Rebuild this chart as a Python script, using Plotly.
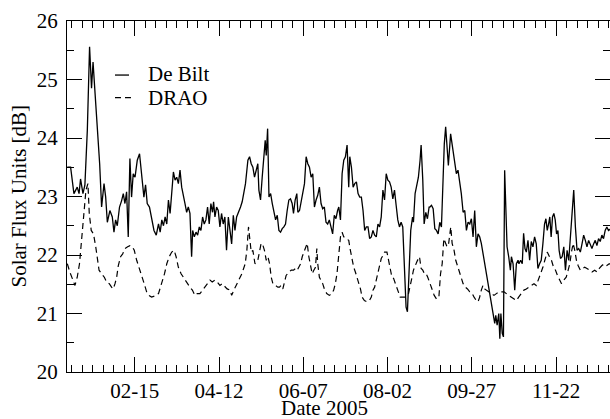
import plotly.graph_objects as go
import pandas as pd

# ---- data (day offset from 2005-01-01, value in dB) ----
debilt_day = [0.2,2.4,4.6,6.8,8.0,9.0,10.6,11.9,13.5,15.0,16.3,17.3,18.3,20.1,21.7,23.0,24.6,25.7,26.8,28.5,
              30.1,31.2,32.3,33.4,34.9,36.3,37.4,38.5,39.6,40.7,41.8,42.9,44.0,45.2,46.7,48.2,49.5,51.1,52.2,53.3,
              54.8,56.2,57.8,59.3,60.8,61.9,63.0,64.1,65.2,66.3,67.4,68.5,69.6,70.7,71.8,72.9,74.0,75.1,76.2,77.3,
              78.4,79.5,80.6,81.7,82.8,83.5,84.6,85.7,86.8,87.9,89.0,90.1,91.2,92.3,93.4,94.5,95.6,96.7,97.4,98.3,
              99.4,100.5,101.6,102.7,103.8,104.9,106.0,107.2,108.3,109.4,110.5,111.6,112.7,113.8,115.3,116.4,117.5,118.6,
              120.2,121.3,122.4,123.5,124.6,125.7,126.8,127.5,128.6,129.7,130.8,131.7,132.4,133.3,134.2,135.3,136.4,137.5,
              138.6,139.7,140.8,141.9,143.0,144.1,145.2,146.3,147.4,148.5,149.6,150.5,151.6,152.7,153.4,154.5,155.6,156.7,
              157.8,158.9,160.0,161.1,162.2,163.3,164.4,165.5,166.6,167.7,168.8,169.9,171.0,172.1,173.2,174.3,175.4,176.5,
              177.6,178.7,179.8,180.6,181.7,182.8,183.9,185.0,186.1,187.2,187.9,189.0,190.1,191.2,192.3,193.4,194.5,195.6,
              196.7,197.8,198.9,200.0,201.1,202.2,203.3,204.4,205.5,206.6,207.7,208.8,209.9,211.0,212.1,213.2,214.3,215.4,
              216.5,217.6,218.7,219.8,220.9,222.0,223.1,224.2,225.3,226.2,227.3,228.4,229.6,230.2,231.3,232.4,233.5,234.6,
              235.3,236.4,237.3,238.4,239.5,240.6,241.1,242.2,243.3,244.4,245.5,246.6,247.7,248.8,249.9,250.7,251.6,253.4,
              254.9,256.5,257.6,258.7,259.8,260.9,262.0,263.2,264.3,265.4,266.5,267.6,268.7,269.8,270.9,272.0,273.1,274.2,
              275.3,284.2,284.9,285.8,286.9,287.6,288.3,289.2,290.0,290.8,292.4,293.5,294.6,295.3,296.4,297.5,298.6,299.7,
              300.3,301.4,302.5,303.4,304.3,305.2,306.3,307.4,308.5,309.6,310.7,311.8,312.9,314.0,315.1,316.2,317.3,318.2,
              319.1,320.0,320.8,321.7,322.6,323.5,324.4,325.3,326.2,327.0,327.9,329.0,330.1,331.2,332.3,333.4,334.5,335.6,
              336.7,337.8,338.9,340.0,341.1,342.2,343.3,344.4,345.5,346.6,347.7,348.8,349.9,351.0,352.1,353.2,354.3,355.4,
              356.5,357.6,358.7,359.8,361.5,363.0]
debilt_val = [23.50,23.50,23.05,23.16,23.05,23.30,23.05,23.20,24.13,25.56,24.85,25.30,24.90,24.25,23.56,22.82,23.22,22.99,22.56,22.76,
              22.65,22.39,22.60,22.50,22.82,22.93,23.05,22.88,23.08,22.31,23.65,22.99,23.39,23.33,23.62,23.73,23.33,22.99,23.20,22.88,
              22.82,22.60,22.42,22.34,22.53,22.39,22.60,22.50,22.65,22.53,22.94,22.71,23.05,23.42,23.28,23.33,23.22,23.45,23.16,22.99,
              22.88,22.73,22.82,22.71,21.97,22.42,22.31,22.39,22.34,22.48,22.42,22.65,22.53,22.60,22.82,22.53,22.88,22.73,22.91,22.65,
              22.82,22.76,22.48,22.71,22.53,22.65,22.08,22.65,22.36,22.19,22.68,22.42,22.65,22.71,22.82,22.91,23.11,23.22,
              23.62,23.68,23.56,23.50,23.33,23.45,23.56,23.11,22.94,23.33,23.73,23.96,23.70,24.16,22.99,23.05,22.88,22.76,
              22.60,22.68,22.42,22.39,22.45,22.48,22.53,22.76,22.94,22.96,22.88,22.71,22.94,23.05,22.73,22.76,22.94,23.11,
              23.22,23.68,23.56,23.50,23.33,23.39,22.82,22.94,23.02,23.16,22.88,22.79,22.82,22.56,22.53,22.60,22.48,22.36,
              22.68,22.62,22.76,22.82,22.60,23.39,23.62,23.68,23.88,23.16,23.68,23.50,23.16,23.22,23.25,23.05,22.99,22.99,
              22.76,22.42,22.48,22.48,22.28,22.31,22.42,22.34,22.31,22.53,22.48,22.65,23.11,22.94,23.39,23.28,23.25,23.16,
              22.96,23.11,22.85,22.60,22.48,22.56,22.48,21.85,21.11,21.03,21.85,22.42,22.65,22.56,23.05,23.22,23.33,23.62,
              23.88,23.28,22.53,22.73,22.62,22.82,22.82,22.85,22.79,22.45,22.42,22.36,22.56,22.48,23.28,23.90,24.19,23.53,
              24.07,23.79,23.56,23.39,23.45,23.28,23.05,22.73,22.76,22.42,22.56,22.53,22.62,22.31,22.76,22.14,22.36,22.31,
              22.20,20.83,20.97,20.80,21.00,20.57,21.00,20.66,20.60,23.45,22.14,21.97,21.74,21.97,21.85,21.40,21.85,21.91,
              21.85,21.91,21.85,22.37,22.11,22.05,22.25,21.91,22.23,22.14,22.31,22.19,21.77,21.85,21.91,22.19,22.53,22.62,
              22.42,22.53,22.65,22.31,22.65,22.71,22.60,22.36,22.42,22.08,21.94,21.97,22.14,21.74,22.08,21.91,22.31,22.53,
              23.11,22.48,22.08,22.11,22.05,22.19,22.34,22.25,22.14,22.25,22.16,22.11,22.19,22.25,22.16,22.28,22.23,22.34,
              22.28,22.42,22.48,22.42,22.45,22.40]

drao_day = [0.2,2.0,5.3,6.8,8.3,9.6,11.1,12.6,13.9,14.8,16.1,17.6,19.1,20.4,21.3,23.0,24.8,26.3,28.1,29.6,
            30.7,31.9,33.0,34.1,35.6,37.0,38.5,40.3,41.8,43.4,44.7,46.3,47.8,49.6,51.3,52.9,54.4,56.2,58.4,60.8,
            63.0,64.8,66.3,67.9,69.6,71.2,72.5,74.0,75.8,77.3,78.9,80.2,81.7,83.3,85.0,86.6,88.3,90.1,91.6,93.2,
            95.0,96.5,98.3,99.8,101.6,103.1,104.9,106.4,108.3,109.4,110.9,112.7,114.2,116.2,118.4,119.5,120.6,121.8,122.4,123.5,
            124.9,126.8,127.9,129.0,130.1,131.2,132.4,133.5,134.6,135.7,136.8,138.6,140.1,141.2,142.3,143.4,144.5,145.6,147.4,149.0,
            150.5,151.9,153.0,154.1,155.2,156.3,157.4,158.5,159.6,160.7,161.8,162.9,164.0,165.1,166.0,166.6,167.7,168.8,169.9,171.0,
            172.6,174.3,175.9,177.2,178.3,179.4,180.6,181.7,182.8,183.9,185.6,187.2,188.3,189.4,190.5,191.6,192.7,193.9,195.0,196.1,
            197.6,199.4,200.9,202.2,203.3,204.4,205.5,206.6,207.7,208.8,209.9,211.0,212.6,213.7,214.8,215.9,217.0,218.1,219.2,220.3,
            221.4,223.0,224.7,226.9,228.0,229.1,230.2,231.3,232.4,233.5,234.2,235.3,236.4,237.5,238.6,239.7,241.1,242.2,244.0,245.5,
            247.1,248.2,249.3,250.4,251.4,252.5,253.6,255.0,255.9,257.2,258.3,259.4,260.5,261.6,263.2,264.7,266.1,267.6,269.2,270.5,
            272.0,273.1,274.2,275.3,276.4,277.5,278.6,280.2,282.0,283.7,285.3,286.9,288.6,290.4,291.9,293.5,295.3,297.0,298.6,300.1,
            302.1,303.6,305.2,307.0,308.5,310.3,311.8,313.1,314.7,316.2,317.5,319.1,320.6,321.9,323.3,324.6,325.9,327.3,328.6,330.1,
            331.7,333.0,334.1,335.2,336.3,337.4,338.5,339.6,341.1,342.7,344.0,345.5,347.1,348.8,350.6,352.1,353.7,355.4,357.2,358.7,
            360.3,362.0,364.0]
drao_val = [21.85,21.70,21.48,21.62,21.85,22.20,22.65,23.11,23.22,22.71,22.42,22.36,22.14,21.91,21.74,21.68,21.62,21.54,21.51,21.45,
            21.42,21.51,21.62,21.82,21.97,22.02,22.11,22.14,22.16,22.14,22.08,21.91,21.79,21.68,21.51,21.37,21.31,21.28,21.30,21.34,
            21.51,21.68,21.85,21.97,22.05,22.08,21.97,21.79,21.68,21.62,21.54,21.51,21.45,21.40,21.31,21.34,21.34,21.40,21.45,21.51,
            21.57,21.54,21.57,21.54,21.48,21.51,21.45,21.42,21.40,21.31,21.40,21.50,21.57,21.68,21.85,22.08,22.48,22.20,22.05,22.08,
            21.85,21.91,22.08,22.20,22.17,22.08,21.91,21.97,21.85,21.62,21.51,21.48,21.45,21.45,21.48,21.42,21.54,21.65,21.71,21.74,
            21.74,21.77,21.74,21.79,21.85,21.97,22.05,22.11,22.20,21.97,21.79,21.68,21.74,21.79,22.11,21.85,21.62,21.57,21.51,21.42,
            21.34,21.31,21.34,21.40,21.51,21.68,22.08,22.31,22.39,22.31,22.28,22.25,22.08,21.91,21.79,21.71,21.62,21.51,21.42,21.28,
            21.22,21.20,21.22,21.28,21.40,21.45,21.57,21.68,21.85,21.94,21.99,22.05,22.05,21.91,21.74,21.62,21.60,21.51,21.45,21.34,
            21.28,21.28,21.28,21.34,21.45,21.60,21.74,21.82,21.88,21.94,21.97,21.77,21.74,21.68,21.68,21.62,21.51,21.42,21.31,21.25,
            21.28,21.68,21.85,22.28,22.20,22.14,22.20,22.48,22.20,22.08,21.91,21.82,21.74,21.62,21.51,21.45,21.42,21.37,21.34,21.28,
            21.22,21.20,21.28,21.40,21.48,21.42,21.40,21.37,21.34,21.31,21.34,21.37,21.37,21.37,21.34,21.31,21.28,21.25,21.22,21.28,
            21.34,21.40,21.42,21.45,21.48,21.51,21.48,21.57,21.65,21.79,21.91,22.05,21.97,21.91,21.79,21.74,21.65,21.57,21.51,21.57,
            21.62,21.74,21.85,22.05,22.20,22.08,21.91,21.82,21.74,21.77,21.79,21.77,21.74,21.71,21.74,21.71,21.77,21.82,21.85,21.82,
            21.85,21.83,21.80]

tick_dates = ["2005-02-15", "2005-04-12", "2005-06-07", "2005-08-02", "2005-09-27", "2005-11-22"]
tick_labels = ["02-15", "04-12", "06-07", "08-02", "09-27", "11-22"]
series_names = ["De Bilt", "DRAO"]

base = pd.Timestamp("2005-01-01")
x_start = base
x_end = base + pd.Timedelta(days=360.8)

def to_dates(days):
    return [base + pd.Timedelta(days=d) for d in days]

FONT = "'Liberation Serif', 'Times New Roman', Times, serif"
TFONT = dict(family=FONT, size=21, color="black")

fig = go.Figure()
fig.add_trace(go.Scatter(x=to_dates(debilt_day), y=debilt_val, mode="lines", name=series_names[0],
                         line=dict(color="black", width=1.3), showlegend=False, hoverinfo="skip"))
fig.add_trace(go.Scatter(x=to_dates(drao_day), y=drao_val, mode="lines", name=series_names[1],
                         line=dict(color="black", width=1.2, dash="6px,4px"), showlegend=False, hoverinfo="skip"))
# empty trace that attaches the top / right tick-only axes
fig.add_trace(go.Scatter(x=[None], y=[None], xaxis="x2", yaxis="y2", mode="lines",
                         showlegend=False, hoverinfo="skip"))

common = dict(showgrid=False, zeroline=False, ticks="inside", tickcolor="black", tickwidth=1.3,
              ticklen=15, tickfont=TFONT)
xminor = dict(ticks="inside", ticklen=7, tickcolor="black", tickwidth=1.2,
              dtick=7 * 86400000, tick0="2005-02-15", showgrid=False)
yminor = dict(ticks="inside", ticklen=7, tickcolor="black", tickwidth=1.2, dtick=0.5, showgrid=False)

fig.update_layout(
    width=610, height=419,
    margin=dict(l=67, r=0, t=21, b=47),
    paper_bgcolor="white", plot_bgcolor="white",
    hovermode=False,
    xaxis=dict(type="date", range=[x_start, x_end], showline=True, linecolor="black", linewidth=1.3,
               mirror=True, tickvals=tick_dates, ticktext=tick_labels, minor=xminor, **common),
    xaxis2=dict(type="date", range=[x_start, x_end], overlaying="x", side="top", showline=False,
                showticklabels=False, tickvals=tick_dates, minor=xminor, **common),
    yaxis=dict(range=[20, 26], dtick=1, showline=True, linecolor="black", linewidth=1.3,
               ticklabelstandoff=4, minor=yminor, **common),
    yaxis2=dict(range=[20, 26], dtick=1, overlaying="y", side="right", showline=False,
                showticklabels=False, minor=yminor, **common),
)

# legend drawn as sample lines + text
fig.add_shape(type="line", xref="paper", yref="paper", x0=0.0884, x1=0.1142, y0=0.846, y1=0.846,
              line=dict(color="black", width=1.3))
fig.add_shape(type="line", xref="paper", yref="paper", x0=0.0884, x1=0.1178, y0=0.7815, y1=0.7815,
              line=dict(color="black", width=1.2, dash="6px,4px"))
fig.add_annotation(text=series_names[0], xref="paper", yref="paper", x=0.1455, y=0.849, xanchor="left",
                   yanchor="middle", showarrow=False, font=TFONT)
fig.add_annotation(text=series_names[1], xref="paper", yref="paper", x=0.1455, y=0.7815, xanchor="left",
                   yanchor="middle", showarrow=False, font=TFONT)

# axis titles
fig.add_annotation(text="Date 2005", xref="paper", yref="paper", x=0.475, y=-0.1026, xanchor="center",
                   yanchor="middle", showarrow=False, font=TFONT)
fig.add_annotation(text="Solar Flux Units [dB]", xref="paper", yref="paper", x=-0.0902, y=0.5,
                   xanchor="center", yanchor="middle", textangle=-90, showarrow=False, font=TFONT)

fig.write_html("out.html")
